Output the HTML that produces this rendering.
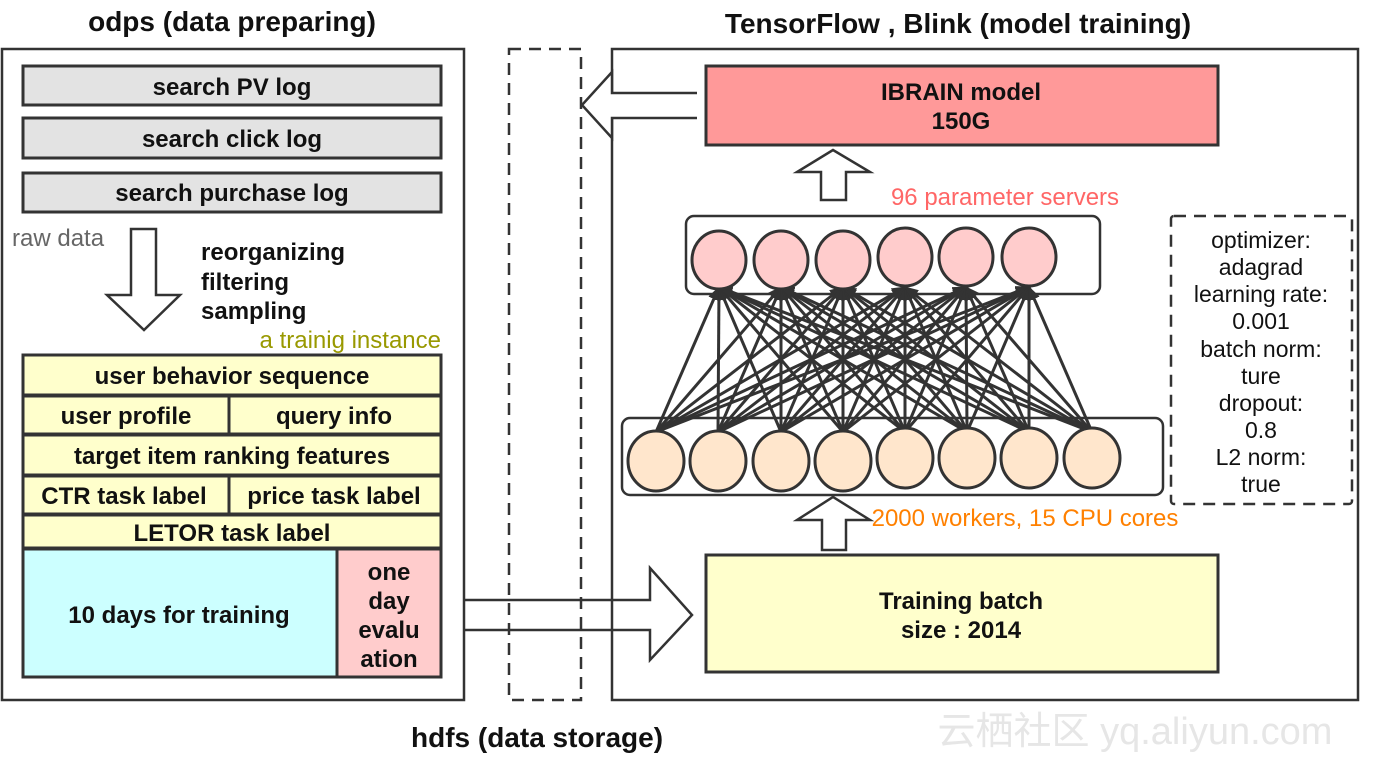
<!DOCTYPE html>
<html><head><meta charset="utf-8"><style>
html,body{margin:0;padding:0;background:#fff}
svg{display:block}
text{font-family:"Liberation Sans","DejaVu Sans",sans-serif}
.b{font-weight:bold;font-size:24px;fill:#111}
</style></head><body>
<svg width="1374" height="760" viewBox="0 0 1374 760" xmlns="http://www.w3.org/2000/svg">
<defs>
<marker id="ah" markerWidth="14" markerHeight="12" refX="13" refY="6" orient="auto" markerUnits="userSpaceOnUse">
<path d="M0,0 L14,6 L0,12 z" fill="#333"/>
</marker>
</defs>
<g stroke="#333" stroke-width="2.5" fill="none">
<rect x="2" y="49" width="462" height="651"/>
<rect x="612" y="49" width="746" height="651"/>
<rect x="509" y="49" width="72" height="651" stroke-dasharray="12,8"/>
<rect x="1171" y="216" width="181" height="288" stroke-dasharray="12,8" rx="3"/>
</g>
<g stroke="#333" stroke-width="3">
<rect x="23" y="66" width="418" height="39" fill="#e3e3e3"/>
<rect x="23" y="118" width="418" height="40" fill="#e3e3e3"/>
<rect x="23" y="173" width="418" height="39" fill="#e3e3e3"/>
<rect x="23" y="355" width="418" height="40" fill="#ffffcc"/>
<rect x="23" y="396" width="206" height="38" fill="#ffffcc"/>
<rect x="229" y="396" width="212" height="38" fill="#ffffcc"/>
<rect x="23" y="435" width="418" height="40" fill="#ffffcc"/>
<rect x="23" y="476" width="206" height="38" fill="#ffffcc"/>
<rect x="229" y="476" width="212" height="38" fill="#ffffcc"/>
<rect x="23" y="515" width="418" height="33" fill="#ffffcc"/>
<rect x="23" y="549" width="314" height="128" fill="#ccffff"/>
<rect x="337" y="549" width="104" height="128" fill="#ffcccc"/>
<rect x="706" y="66" width="512" height="79" fill="#ff9999"/>
<rect x="706" y="555" width="512" height="117" fill="#ffffcc"/>
</g>
<g stroke="#333" stroke-width="2.5" fill="#fff" stroke-linejoin="miter">
<path d="M131,229 L156,229 L156,295 L180,295 L144,330 L107,295 L131,295 Z"/>
<path d="M697,93 L612,93 L612,72 L582,105 L612,138 L612,118 L697,118"/>
<path d="M821,200 L821,172 L797,172 L833,150 L870,172 L846,172 L846,200 Z"/>
<path d="M822,550 L822,520 L797,520 L833,497 L870,520 L846,520 L846,550 Z"/>
<path d="M464,600 L650,600 L650,568 L692,615 L650,660 L650,630 L464,630" fill="none"/>
<rect x="686" y="216" width="414" height="78" rx="8" fill="#fff"/>
<rect x="622" y="418" width="541" height="77" rx="8" fill="#fff"/>
</g>
<g stroke="#333" stroke-width="3" marker-end="url(#ah)">
<line x1="656" y1="432" x2="719" y2="287"/><line x1="656" y1="432" x2="781" y2="287"/><line x1="656" y1="432" x2="843" y2="287"/><line x1="656" y1="432" x2="905" y2="287"/><line x1="656" y1="432" x2="966" y2="287"/><line x1="656" y1="432" x2="1029" y2="287"/>
<line x1="718" y1="432" x2="719" y2="287"/><line x1="718" y1="432" x2="781" y2="287"/><line x1="718" y1="432" x2="843" y2="287"/><line x1="718" y1="432" x2="905" y2="287"/><line x1="718" y1="432" x2="966" y2="287"/><line x1="718" y1="432" x2="1029" y2="287"/>
<line x1="781" y1="432" x2="719" y2="287"/><line x1="781" y1="432" x2="781" y2="287"/><line x1="781" y1="432" x2="843" y2="287"/><line x1="781" y1="432" x2="905" y2="287"/><line x1="781" y1="432" x2="966" y2="287"/><line x1="781" y1="432" x2="1029" y2="287"/>
<line x1="843" y1="432" x2="719" y2="287"/><line x1="843" y1="432" x2="781" y2="287"/><line x1="843" y1="432" x2="843" y2="287"/><line x1="843" y1="432" x2="905" y2="287"/><line x1="843" y1="432" x2="966" y2="287"/><line x1="843" y1="432" x2="1029" y2="287"/>
<line x1="905" y1="432" x2="719" y2="287"/><line x1="905" y1="432" x2="781" y2="287"/><line x1="905" y1="432" x2="843" y2="287"/><line x1="905" y1="432" x2="905" y2="287"/><line x1="905" y1="432" x2="966" y2="287"/><line x1="905" y1="432" x2="1029" y2="287"/>
<line x1="967" y1="432" x2="719" y2="287"/><line x1="967" y1="432" x2="781" y2="287"/><line x1="967" y1="432" x2="843" y2="287"/><line x1="967" y1="432" x2="905" y2="287"/><line x1="967" y1="432" x2="966" y2="287"/><line x1="967" y1="432" x2="1029" y2="287"/>
<line x1="1029" y1="432" x2="719" y2="287"/><line x1="1029" y1="432" x2="781" y2="287"/><line x1="1029" y1="432" x2="843" y2="287"/><line x1="1029" y1="432" x2="905" y2="287"/><line x1="1029" y1="432" x2="966" y2="287"/><line x1="1029" y1="432" x2="1029" y2="287"/>
<line x1="1092" y1="432" x2="719" y2="287"/><line x1="1092" y1="432" x2="781" y2="287"/><line x1="1092" y1="432" x2="843" y2="287"/><line x1="1092" y1="432" x2="905" y2="287"/><line x1="1092" y1="432" x2="966" y2="287"/><line x1="1092" y1="432" x2="1029" y2="287"/>
</g>
<g stroke="#333" stroke-width="3" fill="#ffcccc">
<ellipse cx="719" cy="260" rx="27" ry="29"/><ellipse cx="781" cy="260" rx="27" ry="29"/><ellipse cx="843" cy="260" rx="27" ry="29"/><ellipse cx="905" cy="257" rx="27" ry="29"/><ellipse cx="966" cy="257" rx="27" ry="29"/><ellipse cx="1029" cy="257" rx="27" ry="29"/>
</g>
<g stroke="#333" stroke-width="3" fill="#ffe6cc">
<ellipse cx="656" cy="461" rx="28" ry="30"/><ellipse cx="718" cy="461" rx="28" ry="30"/><ellipse cx="781" cy="461" rx="28" ry="30"/><ellipse cx="843" cy="461" rx="28" ry="30"/><ellipse cx="905" cy="458" rx="28" ry="30"/><ellipse cx="967" cy="458" rx="28" ry="30"/><ellipse cx="1029" cy="458" rx="28" ry="30"/><ellipse cx="1092" cy="458" rx="28" ry="30"/>
</g>
<g class="b" text-anchor="middle">
<text x="232" y="31" font-size="28">odps (data preparing)</text>
<text x="958" y="33" font-size="28">TensorFlow , Blink (model training)</text>
<text x="537" y="747" font-size="28">hdfs (data storage)</text>
<text x="232" y="95">search PV log</text>
<text x="232" y="147">search click log</text>
<text x="232" y="201">search purchase log</text>
<text x="232" y="384">user behavior sequence</text>
<text x="126" y="424">user profile</text>
<text x="334" y="424">query info</text>
<text x="232" y="464">target item ranking features</text>
<text x="124" y="504">CTR task label</text>
<text x="334" y="504">price task label</text>
<text x="232" y="541">LETOR task label</text>
<text x="179" y="623">10 days for training</text>
<text x="389" y="580">one</text>
<text x="389" y="609">day</text>
<text x="389" y="638">evalu</text>
<text x="389" y="667">ation</text>
<text x="961" y="100">IBRAIN model</text>
<text x="961" y="129">150G</text>
<text x="961" y="609">Training batch</text>
<text x="961" y="638">size : 2014</text>
</g>
<g class="b" text-anchor="start">
<text x="201" y="260">reorganizing</text>
<text x="201" y="290">filtering</text>
<text x="201" y="319">sampling</text>
</g>
<text x="12" y="246" font-size="24" fill="#666">raw data</text>
<text x="441" y="348" font-size="24" fill="#999900" text-anchor="end">a trainig instance</text>
<text x="1005" y="205" font-size="24" fill="#ff6666" text-anchor="middle">96 parameter servers</text>
<text x="1025" y="526" font-size="24" fill="#ff8000" text-anchor="middle">2000 workers, 15 CPU cores</text>
<g font-size="23" fill="#111" text-anchor="middle">
<text x="1261" y="248">optimizer:</text>
<text x="1261" y="275">adagrad</text>
<text x="1261" y="302">learning rate:</text>
<text x="1261" y="329">0.001</text>
<text x="1261" y="357">batch norm:</text>
<text x="1261" y="384">ture</text>
<text x="1261" y="411">dropout:</text>
<text x="1261" y="438">0.8</text>
<text x="1261" y="465">L2 norm:</text>
<text x="1261" y="492">true</text>
</g>
<text x="1135" y="744" font-size="38" fill="#e6e6e6" text-anchor="middle">云栖社区 yq.aliyun.com</text>
</svg>
</body></html>
